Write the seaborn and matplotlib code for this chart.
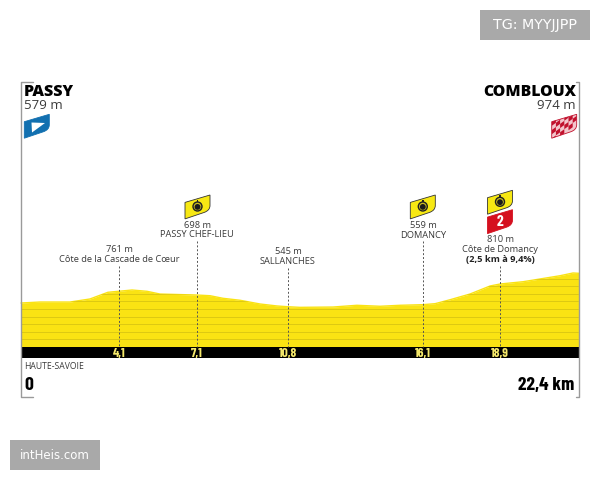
#!/usr/bin/env python3
import matplotlib
matplotlib.use("Agg")
import matplotlib.pyplot as plt
import pandas as pd
import seaborn as sns
from matplotlib.patches import Circle, PathPatch, Polygon, Rectangle
from matplotlib.path import Path
from matplotlib.transforms import blended_transform_factory

# profile
profile_km = [0, 0.76, 1.97, 2.77, 3.49, 4.46, 5.06, 5.58, 7.07, 7.59, 8.11, 8.80, 9.60, 10.28, 10.72,
              11.2, 12.53, 13.49, 14.42, 15.22, 16.14, 16.63, 17.23, 18.03, 18.84, 19.24, 20.16, 20.84,
              21.65, 22.17, 22.4]
profile_alt = [579, 592, 592, 632, 720, 750, 733, 697, 684, 675, 641, 615, 566, 540, 530,
               522, 526, 549, 536, 549, 557, 570, 622, 697, 803, 829, 859, 895,
               938, 974, 970]
stop_km = [3.94, 7.07, 10.72, 16.14, 19.24]
stop_ticks = ["4,1", "7,1", "10,8", "16,1", "18,9"]
contour_alt = list(range(100, 1000, 100))

PX_LEFT, PX_PER_KM = 21, 24.9
PX_BASE, M_PER_PX = 347, 13.16

sns.set_style("white")
plt.rcParams["font.family"] = ["Open Sans", "DejaVu Sans"]
NARROW = ["Barlow Condensed", "Open Sans"]
YELLOW = "#fae313"
TXT = "#3a3a3a"

fig = plt.figure(figsize=(6, 4.8), dpi=100)
ax = fig.add_axes([0, 0, 1, 1])
ax.set_xlim(-PX_LEFT / PX_PER_KM, (600 - PX_LEFT) / PX_PER_KM)
ax.set_ylim((PX_BASE - 480) * M_PER_PX, PX_BASE * M_PER_PX)
ax.patch.set_alpha(0)

df = pd.DataFrame({"km": profile_km, "alt": profile_alt})
fill = ax.fill_between(df["km"], 0, df["alt"], color=YELLOW, lw=0, zorder=1)
sns.lineplot(data=df, x="km", y="alt", ax=ax, color=YELLOW, lw=1, sort=False, zorder=1)
contours = ax.hlines(contour_alt, 0, 22.4, color="#d8c412", lw=0.6, zorder=1.5)
contours.set_clip_path(fill.get_paths()[0], ax.transData)

# black km bar, the km ticks sit on it
ax.fill_between([0, 22.4], -11 * M_PER_PX, 0, color="black", lw=0, zorder=1.6)
ax.spines["bottom"].set_position(("data", 0))
ax.set_xticks(stop_km)
ax.set_xticklabels(stop_ticks, family=NARROW, fontweight="bold", fontsize=9.5, color="#f4e86a")
ax.set_yticks([])
ax.set_xlabel("")
ax.set_ylabel("")
ax.set_axisbelow(False)
ax.tick_params(axis="x", length=0, pad=0.5)
for side in ["top", "left", "right", "bottom"]:
    ax.spines[side].set_visible(False)

# overlay in pixel coords for the frame, flags and notes
ov = fig.add_axes([0, 0, 1, 1])
ov.set_xlim(0, 600)
ov.set_ylim(480, 0)
ov.axis("off")
trans = blended_transform_factory(ax.transData, ov.transData)


def badge(x0, ytop, color, edge):
    w, h, s = 25, 16.5, 7.4
    verts = [(x0, ytop + s), (x0 + w, ytop), (x0 + w, ytop + h - 6), (x0 + w, ytop + h - 1),
             (x0 + w - 6, ytop + h + 1), (x0, ytop + s + h), (x0, ytop + s)]
    codes = [Path.MOVETO, Path.LINETO, Path.LINETO, Path.CURVE3, Path.CURVE3, Path.LINETO, Path.CLOSEPOLY]
    p = PathPatch(Path(verts, codes), facecolor=color, edgecolor=edge, lw=0.6)
    ov.add_patch(p)
    return p


def stopwatch(x0, ytop):
    badge(x0, ytop, "#f7e813", "#333333")
    cx, cy = x0 + 12.5, ytop + 11.5
    ov.add_patch(Circle((cx, cy), 5.2, color="#222222", lw=0))
    ov.add_patch(Circle((cx, cy), 3.8, color="#c9bb22", lw=0))
    ov.add_patch(Circle((cx, cy + 0.4), 2.9, color="#1a1a1a", lw=0))
    ov.add_patch(Rectangle((cx - 0.8, cy - 6.6), 1.6, 2, color="#222222", lw=0))


# corners of the frame
ov.plot([33, 20.7, 20.7, 33], [82.3, 82.3, 396.7, 396.7], color="#9a9a9a", lw=1)
ov.plot([576, 579.3, 579.3, 576], [82.3, 82.3, 396.7, 396.7], color="#9a9a9a", lw=1)

# start and finish
ov.text(24, 91.5, "PASSY", fontsize=11.5, fontweight=800, color="black", ha="left", va="center")
ov.text(24, 105.5, "579 m", fontsize=9.5, color=TXT, ha="left", va="center")
ov.text(576, 91.5, "COMBLOUX", fontsize=11.3, fontweight=800, color="black", ha="right", va="center")
ov.text(576, 105.5, "974 m", fontsize=9.5, color=TXT, ha="right", va="center")

badge(24.3, 114.3, "#1270b0", "#1270b0")
ov.add_patch(Polygon([(31.5, 122.5), (45, 123), (32, 132.5)], color="white", lw=0))

flag = badge(551.7, 114.3, "#f3c6cc", "#c1112d")
for i in range(6):
    for j in range(5):
        if (i + j) % 2 == 0:
            x = 551.7 + i * 4.2
            top = 114.3 + 7.4 - i * 3.1 + j * 4.2
            sq = Polygon([(x, top), (x + 4.2, top - 3.1), (x + 4.2, top + 1.1), (x, top + 4.2)],
                         color="#c1112d", lw=0)
            ov.add_patch(sq)
            sq.set_clip_path(flag)

# intermediate points
stopwatch(185, 195)
stopwatch(410.3, 195)
stopwatch(487.5, 190.3)
badge(487.5, 209.7, "#d5101f", "#d5101f")
ov.text(500, 222, "2", fontsize=11, fontweight="bold", color="white", ha="center", va="center", family=NARROW)

kw = dict(fontsize=6.7, color=TXT, ha="center", va="center", transform=trans)
ax.text(stop_km[0], 250, "761 m", **kw)
ax.text(stop_km[0], 259, "Côte de la Cascade de Cœur", **kw)
ax.text(stop_km[1], 225, "698 m", **kw)
ax.text(stop_km[1], 234.7, "PASSY CHEF-LIEU", **kw)
ax.text(stop_km[2], 252, "545 m", **kw)
ax.text(stop_km[2], 261, "SALLANCHES", **kw)
ax.text(stop_km[3], 225, "559 m", **kw)
ax.text(stop_km[3], 235, "DOMANCY", **kw)
ax.text(stop_km[4], 240, "810 m", **kw)
ax.text(stop_km[4], 249.7, "Côte de Domancy", **kw)
ax.text(stop_km[4], 259, "(2,5 km à 9,4%)", fontweight="bold", **{**kw, "color": "#222222"})

leader_top = [266, 241, 268, 241, 266]
ax.vlines(stop_km, leader_top, [347] * 5, transform=trans, color="#555555", lw=0.7, linestyles=(0, (2, 2)), zorder=3)

ov.text(24, 366.7, "HAUTE-SAVOIE", fontsize=6.2, color=TXT, ha="left", va="center")
ov.text(24, 386, "0", fontsize=14, fontweight="bold", color="black", ha="left", va="center", family=NARROW)
ov.text(574, 386, "22,4 km", fontsize=14, fontweight="bold", color="black", ha="right", va="center", family=NARROW)

# watermarks
ov.add_patch(Rectangle((480, 10), 110, 30, color="#a9a9a9", lw=0))
ov.text(535, 25.5, "TG: MYYJJPP", fontsize=10.3, color="white", ha="center", va="center", family="DejaVu Sans")
ov.add_patch(Rectangle((10, 440), 90, 30, color="#a9a9a9", lw=0))
ov.text(55, 455.5, "intHeis.com", fontsize=8.5, color="white", ha="center", va="center", family="DejaVu Sans")

fig.savefig("out.png", dpi=100)
